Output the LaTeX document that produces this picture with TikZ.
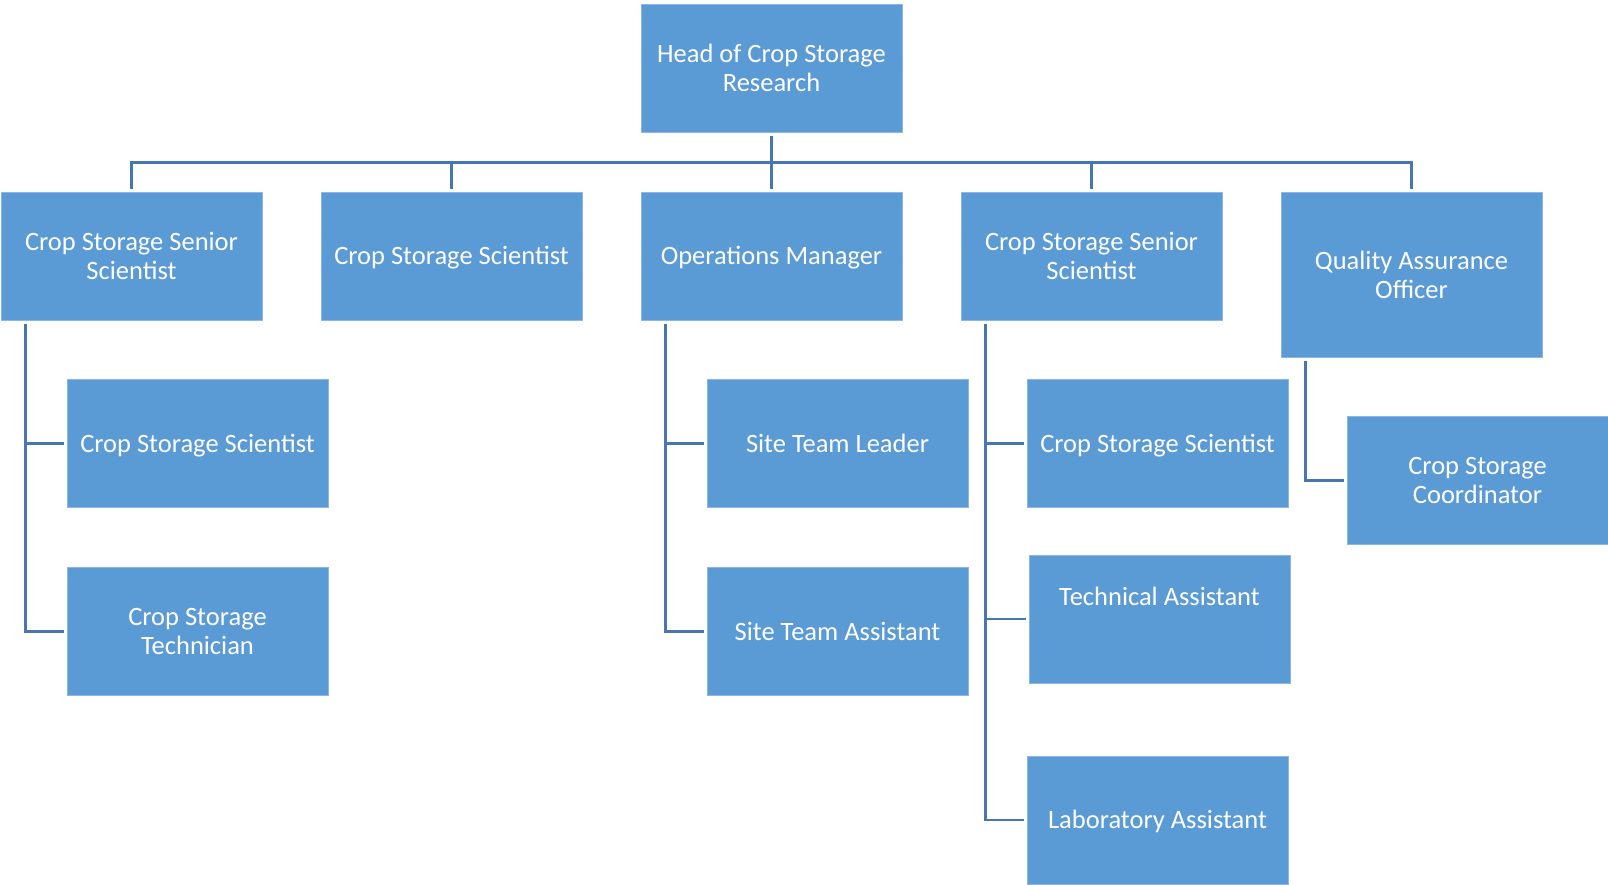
\documentclass[tikz,border=0pt]{standalone}
\usepackage{fontspec}
\setmainfont{Carlito}
\usetikzlibrary{calc}
\definecolor{boxblue}{HTML}{5B9BD5}
\definecolor{boxedge}{HTML}{8CB7E2}
\definecolor{linecol}{HTML}{4677B0}
\tikzset{
  box/.style={fill=boxblue, draw=boxedge, line width=0.8pt, minimum width=261pt,
    minimum height=128pt, inner sep=0pt, align=center, text=white,
    font=\fontsize{26.5}{29}\selectfont},
  single/.style={text height=22pt, text depth=5pt},
  conn/.style={draw=linecol, line width=2.6pt, shorten <=4pt, shorten >=3pt},
}
\begin{document}
\begin{tikzpicture}[x=1pt,y=-1pt]
\useasboundingbox (0,0) rectangle (1608,885);
\node[box] (head) at (771.5,68) {Head of Crop Storage\\Research};
\node[box] (c1) at (131.5,256) {Crop Storage Senior\\Scientist};
\node[box, single] (c2) at (451.5,256) {Crop Storage Scientist};
\node[box, single] (c3) at (771.5,256) {Operations Manager};
\node[box] (c4) at (1091.5,256) {Crop Storage Senior\\Scientist};
\node[box, minimum height=165pt] (c5) at (1411.5,274.5) {Quality Assurance\\Officer};
\node[box, single] (c1a) at (197.5,443.5) {Crop Storage Scientist};
\node[box] (c1b) at (197.5,631.5) {Crop Storage\\Technician};
\node[box, single] (c3a) at (837.5,443.5) {Site Team Leader};
\node[box, single] (c3b) at (837.5,631.5) {Site Team Assistant};
\node[box, single] (c4a) at (1157.5,443.5) {Crop Storage Scientist};
\node[box, label={[text=white, font=\fontsize{26.5}{29}\selectfont, single, yshift=22pt]center:Technical Assistant}] (c4b) at (1159.5,619) {};
\node[box, single] (c4c) at (1157.5,820) {Laboratory Assistant};
\node[box] (c5a) at (1477.5,480.5) {Crop Storage\\Coordinator};
% top level connectors
\foreach \c in {c1,c2,c3,c4,c5}{
  \draw[conn] (head.south) -- ++(0,30) -| (\c.north);
}
% side connectors
\draw[conn] ([xshift=25pt]c1.south west) |- (c1a.west);
\draw[conn] ([xshift=25pt]c1.south west) |- (c1b.west);
\draw[conn] ([xshift=25pt]c3.south west) |- (c3a.west);
\draw[conn] ([xshift=25pt]c3.south west) |- (c3b.west);
\draw[conn] ([xshift=25pt]c4.south west) |- (c4a.west);
\draw[conn] ([xshift=25pt]c4.south west) |- (c4b.west);
\draw[conn] ([xshift=25pt]c4.south west) |- (c4c.west);
\draw[conn] ([xshift=25pt]c5.south west) |- (c5a.west);
\end{tikzpicture}
\end{document}
